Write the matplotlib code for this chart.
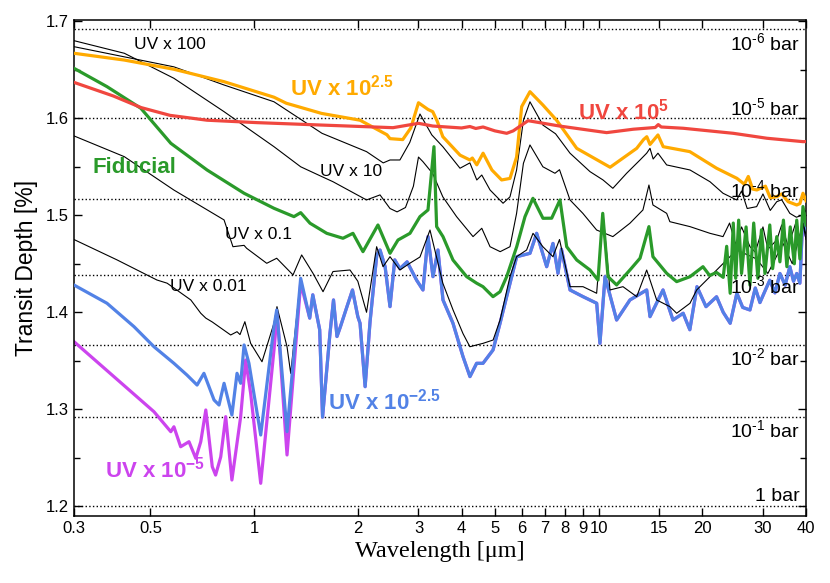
import numpy as np
import matplotlib
matplotlib.use("Agg")
import matplotlib.pyplot as plt
from matplotlib.ticker import FixedLocator, FixedFormatter, MultipleLocator, NullLocator

plt.rcParams['font.family'] = ['Liberation Sans', 'DejaVu Sans']
plt.rcParams['mathtext.fontset'] = 'custom'
plt.rcParams['mathtext.rm'] = 'Liberation Sans'
plt.rcParams['mathtext.bf'] = 'Liberation Sans:bold'
plt.rcParams['mathtext.it'] = 'Liberation Sans:italic'
plt.rcParams['axes.unicode_minus'] = False
plt.rcParams['lines.solid_joinstyle'] = 'round'

# ---- data: wavelength [um], transit depth [%] ----
red_w = [0.30, 0.39, 0.47, 0.57, 0.73, 1.02, 1.57, 2.12, 2.53, 2.70, 3.0, 3.3, 4.0, 4.23,
         4.4, 4.62, 5.0, 5.41, 5.65, 6.24, 7.7, 10.55, 12.6, 14.6, 14.9, 15.2, 17.6, 24.6,
         30.8, 39.2, 40.0]
red_d = [1.637, 1.623, 1.611, 1.603, 1.598, 1.5955, 1.593, 1.5913, 1.5903, 1.592, 1.5948,
         1.592, 1.590, 1.5915, 1.5895, 1.591, 1.587, 1.5845, 1.587, 1.5975, 1.592, 1.5852,
         1.5887, 1.5905, 1.5935, 1.591, 1.5897, 1.5845, 1.5794, 1.5759, 1.576]

orange_w = [0.30, 0.42, 0.585, 0.818, 1.142, 1.24, 1.57, 2.03, 2.43, 2.48, 2.70, 2.85, 3.0,
            3.2, 3.3, 3.4, 3.53, 3.96, 4.23, 4.3, 4.43, 4.62, 4.90, 5.23, 5.53, 5.78, 5.98,
            6.32, 6.89, 7.55, 8.64, 10.8, 12.9, 13.5, 13.8, 14.1, 14.87, 15.4, 18.4, 22.0,
            25.2, 26.5, 27.2, 28.0, 28.8, 30.5, 31.5, 32.9, 34.0, 35.5, 37.6, 38.4, 39.2, 40.0]
orange_d = [1.667, 1.660, 1.6505, 1.6377, 1.6217, 1.6155, 1.605, 1.598, 1.583, 1.579, 1.578,
            1.590, 1.616, 1.609, 1.6068, 1.597, 1.581, 1.562, 1.557, 1.559, 1.552, 1.564,
            1.5467, 1.5364, 1.538, 1.560, 1.612, 1.6274, 1.6137, 1.598, 1.569, 1.5495, 1.569,
            1.578, 1.581, 1.573, 1.5828, 1.5707, 1.5656, 1.5485, 1.5381, 1.532, 1.540, 1.527,
            1.5261, 1.530, 1.518, 1.5192, 1.522, 1.514, 1.5106, 1.512, 1.5227, 1.515]

uv100_w = [0.30, 0.585, 0.818, 1.142, 1.574, 2.12, 2.37, 2.48, 2.65, 2.83, 3.03, 3.28, 3.53,
           3.96, 4.23, 4.43, 4.58, 4.84, 5.28, 5.53, 5.78, 6.05, 6.32, 6.89, 7.5, 8.26, 9.44,
           10.3, 11.0, 12.06, 13.19, 13.79, 14.1, 14.4, 14.87, 15.76, 18.42, 21.05, 22.97,
           25.16, 26.0, 27.0, 28.76, 30.0, 31.5, 32.9, 34.0, 35.9, 37.5, 39.2, 40.0]
uv100_d = [1.6738, 1.653, 1.6343, 1.617, 1.5845, 1.5656, 1.554, 1.557, 1.557, 1.575, 1.6044,
           1.5828, 1.5707, 1.5485, 1.554, 1.5364, 1.5415, 1.5261, 1.5124, 1.519, 1.5467,
           1.598, 1.617, 1.593, 1.584, 1.564, 1.545, 1.5364, 1.5278, 1.5433, 1.557, 1.564,
           1.569, 1.558, 1.564, 1.5519, 1.5467, 1.5346, 1.5227, 1.5158, 1.525, 1.507, 1.5089,
           1.522, 1.505, 1.514, 1.516, 1.502, 1.498, 1.5003, 1.505]

uv10_w = [0.30, 0.42, 0.585, 0.818, 1.142, 1.365, 1.574, 1.694, 2.12, 2.32, 2.48, 2.60, 2.75,
          2.90, 3.0, 3.09, 3.3, 3.53, 3.87, 4.32, 4.58, 4.84, 5.18, 5.53, 5.78, 6.05, 6.32,
          6.89, 7.47, 7.7, 8.26, 9.0, 9.87, 11.0, 12.33, 13.45, 14.0, 14.38, 15.76, 16.1,
          18.42, 21.05, 22.97, 24.0, 25.0, 26.0, 27.51, 28.5, 30.0, 31.0, 32.9, 34.0, 35.5,
          37.6, 38.4, 39.2, 40.0]
uv10_d = [1.680, 1.667, 1.6412, 1.6068, 1.5707, 1.550, 1.5398, 1.5346, 1.5158, 1.521, 1.507,
          1.5035, 1.508, 1.530, 1.560, 1.5553, 1.543, 1.519, 1.4986, 1.478, 1.4866, 1.4676,
          1.4625, 1.4676, 1.502, 1.5536, 1.5725, 1.550, 1.5433, 1.547, 1.5158, 1.502, 1.4848,
          1.478, 1.4918, 1.5055, 1.5312, 1.5106, 1.502, 1.4934, 1.4883, 1.4814, 1.478, 1.492,
          1.470, 1.488, 1.4676, 1.462, 1.488, 1.465, 1.4745, 1.490, 1.468, 1.4952, 1.470,
          1.4918, 1.480]

uv01_w = [0.30, 0.42, 0.585, 0.818, 0.868, 0.935, 0.951, 1.088, 1.163, 1.297, 1.374, 1.482,
          1.585, 1.694, 1.898, 2.0, 2.12, 2.268, 2.367, 2.48, 2.65, 2.83, 3.03, 3.24, 3.53,
          3.78, 4.04, 4.23, 4.62, 4.94, 5.175, 5.53, 5.78, 6.18, 6.45, 6.89, 7.37, 7.7, 8.26,
          9.01, 9.87, 10.3, 10.79, 11.77, 12.9, 13.79, 14.74, 16.11, 16.85, 18.42, 19.26,
          22.02, 25.16, 28.76, 31.0, 34.3, 36.5, 39.2, 40.0]
uv01_d = [1.5818, 1.5604, 1.526, 1.4952, 1.4676, 1.469, 1.466, 1.4505, 1.4557, 1.4385,
          1.4591, 1.4402, 1.4212, 1.442, 1.4436, 1.432, 1.400, 1.4676, 1.447, 1.4573,
          1.4436, 1.4505, 1.457, 1.4848, 1.430, 1.4024, 1.378, 1.3645, 1.368, 1.3714, 1.392,
          1.4367, 1.4573, 1.4642, 1.4814, 1.4676, 1.4573, 1.475, 1.4264, 1.4264, 1.4196,
          1.502, 1.423, 1.4264, 1.4161, 1.4436, 1.4127, 1.4058, 1.399, 1.4093, 1.423, 1.4436,
          1.4642, 1.455, 1.440, 1.471, 1.450, 1.492, 1.475]

blue_w = [0.30, 0.374, 0.448, 0.512, 0.585, 0.638, 0.683, 0.715, 0.765, 0.791, 0.818, 0.862,
          0.892, 0.914, 0.935, 0.966, 1.045, 1.142, 1.163, 1.246, 1.365, 1.45, 1.48, 1.55,
          1.58, 1.66, 1.70, 1.74, 1.78, 1.86, 1.93, 2.0, 2.03, 2.10, 2.17, 2.27, 2.32, 2.40,
          2.48, 2.56, 2.65, 2.78, 2.964, 3.091, 3.197, 3.305, 3.417, 3.534, 3.778, 4.04,
          4.232, 4.425, 4.617, 4.937, 5.175, 5.409, 5.784, 6.321, 6.609, 7.068, 7.371, 7.623,
          7.8, 8.262, 9.012, 9.873, 10.09, 10.44, 11.28, 12.33, 13.79, 14.1, 15.38, 16.44,
          17.6, 18.4, 19.3, 20.5, 22.0, 23.0, 24.1, 25.2, 26.2, 27.5, 28.5, 29.4, 30.5, 31.4,
          32.5, 33.6, 34.8, 35.9, 36.8, 37.6, 38.4, 39.2, 40.0]
blue_d = [1.4281, 1.4093, 1.3852, 1.3645, 1.3474, 1.3354, 1.325, 1.3371, 1.3096, 1.3044,
          1.3268, 1.2941, 1.3371, 1.3268, 1.3663, 1.3474, 1.2735, 1.3852, 1.4024, 1.277,
          1.435, 1.394, 1.418, 1.382, 1.292, 1.378, 1.4127, 1.375, 1.385, 1.4058, 1.423,
          1.3955, 1.3887, 1.3233, 1.390, 1.459, 1.4642, 1.447, 1.4058, 1.454, 1.445, 1.452,
          1.433, 1.423, 1.478, 1.4367, 1.4642, 1.4127, 1.3887, 1.3543, 1.3337, 1.3474,
          1.3474, 1.3611, 1.3887, 1.4161, 1.4573, 1.4608, 1.4814, 1.447, 1.471, 1.4402,
          1.465, 1.423, 1.4161, 1.4093, 1.368, 1.4367, 1.392, 1.4127, 1.423, 1.3955, 1.423,
          1.392, 1.399, 1.382, 1.4264, 1.4058, 1.416, 1.400, 1.3887, 1.4196, 1.405, 1.4024,
          1.425, 1.410, 1.423, 1.433, 1.420, 1.440, 1.428, 1.447, 1.432, 1.440, 1.430,
          1.502, 1.48]

uv001_w = [0.30, 0.40, 0.522, 0.559, 0.655, 0.700, 0.724, 0.756, 0.855, 0.892, 0.91, 0.94,
           0.977, 1.054, 1.142, 1.165, 1.246, 1.277, 1.365]
uv001_d = [1.475, 1.454, 1.4333, 1.430, 1.4127, 1.399, 1.394, 1.390, 1.3766, 1.380, 1.377,
           1.3903, 1.368, 1.349, 1.3887, 1.4058, 1.3645, 1.337, 1.435]

magenta_w = [0.30, 0.512, 0.573, 0.585, 0.612, 0.647, 0.677, 0.700, 0.724, 0.756, 0.773,
             0.800, 0.827, 0.862, 0.914, 0.945, 0.977, 1.045, 1.142, 1.167, 1.246, 1.365]
magenta_d = [1.3697, 1.2975, 1.2769, 1.282, 1.2614, 1.2666, 1.2495, 1.2666, 1.2993, 1.2408,
             1.2322, 1.251, 1.2924, 1.2271, 1.2924, 1.3508, 1.3165, 1.2237, 1.3612, 1.399,
             1.2529, 1.4299]

green_w = [0.30, 0.374, 0.469, 0.573, 0.73, 0.935, 1.142, 1.305, 1.365, 1.453, 1.625, 1.811,
           1.936, 2.07, 2.288, 2.48, 2.616, 2.834, 3.03, 3.197, 3.327, 3.387, 3.534, 3.778,
           4.141, 4.425, 4.617, 4.937, 5.175, 5.409, 5.784, 6.114, 6.447, 6.894, 7.308, 7.725,
           8.079, 8.64, 9.441, 9.96, 10.28, 10.65, 11.28, 12.33, 13.19, 14.0, 14.38, 15.76,
           16.85, 18.42, 20.09, 21.0, 22.0, 23.0, 23.54, 24.1, 24.6, 25.0, 25.5, 26.0, 26.8,
           27.5, 28.2, 29.0, 29.7, 30.4, 31.4, 32.0, 32.9, 33.6, 34.4, 35.2, 36.0, 37.0, 37.6,
           38.4, 39.2, 40.0]
green_d = [1.6515, 1.6326, 1.6103, 1.5742, 1.5467, 1.5227, 1.5072, 1.4986, 1.5027, 1.4918,
           1.4814, 1.4763, 1.4814, 1.4625, 1.490, 1.4608, 1.4745, 1.4814, 1.4986, 1.5055,
           1.5707, 1.4883, 1.478, 1.4539, 1.4367, 1.430, 1.4264, 1.4161, 1.4212, 1.4367,
           1.4676, 1.4986, 1.5175, 1.4969, 1.497, 1.5158, 1.4676, 1.4539, 1.4436, 1.4333,
           1.502, 1.4367, 1.4282, 1.4436, 1.4557, 1.4883, 1.4573, 1.4402, 1.4316, 1.4367,
           1.447, 1.438, 1.441, 1.436, 1.468, 1.4196, 1.492, 1.435, 1.495, 1.440, 1.488,
           1.428, 1.492, 1.435, 1.485, 1.440, 1.490, 1.445, 1.478, 1.452, 1.495, 1.447,
           1.488, 1.450, 1.495, 1.455, 1.509, 1.49]

pressure_depth = [1.692, 1.6006, 1.5165, 1.4385, 1.366, 1.2924, 1.2]
pressure_label = ['10$^{\\text{-6}}$ bar', '10$^{\\text{-5}}$ bar',
                  '10$^{\\text{-4}}$ bar', '10$^{\\text{-3}}$ bar',
                  '10$^{\\text{-2}}$ bar', '10$^{\\text{-1}}$ bar', '1 bar']
pressure_label_y = [1.6776, 1.6106, 1.5261, 1.4271, 1.3529, 1.2787, 1.2096]

xticks = [0.3, 0.5, 1, 2, 3, 4, 5, 6, 7, 8, 9, 10, 15, 20, 30, 40]
xticklabels = ['0.3', '0.5', '1', '2', '3', '4', '5', '6', '7', '8', '9', '10', '15', '20', '30', '40']

blue_w = np.array(blue_w)
blue_d = np.array(blue_d)
tail = blue_w > 1.4
# the magenta and UV x 0.01 spectra run underneath the blue one at long wavelengths
magenta_w = np.concatenate([magenta_w, blue_w[tail]])
magenta_d = np.concatenate([magenta_d, blue_d[tail]])
uv001_w = np.concatenate([uv001_w, blue_w[tail]])
uv001_d = np.concatenate([uv001_d, blue_d[tail]])

c_orange = '#FFAA00'
c_red = '#F0473F'
c_green = '#2A9A2A'
c_blue = '#5282E6'
c_magenta = '#CC44EE'

fig = plt.figure(figsize=(8.3, 5.83), dpi=100)
ax = fig.add_axes([74 / 830, 1 - 516 / 583, 732 / 830, 496 / 583])

for p in pressure_depth:
    ax.axhline(p, color='black', ls=':', lw=1.0, zorder=1)

ax.plot(magenta_w, magenta_d, color=c_magenta, lw=2.3, zorder=2)
ax.plot(uv001_w, uv001_d, color='black', lw=0.8, zorder=2.5)
ax.plot(blue_w, blue_d, color=c_blue, lw=2.3, zorder=3)
ax.plot(uv01_w, uv01_d, color='black', lw=0.8, zorder=4)
ax.plot(uv10_w, uv10_d, color='black', lw=0.8, zorder=4)
ax.plot(uv100_w, uv100_d, color='black', lw=0.8, zorder=4)
ax.plot(green_w, green_d, color=c_green, lw=2.3, zorder=5)
ax.plot(orange_w, orange_d, color=c_orange, lw=2.3, zorder=6)
ax.plot(red_w, red_d, color=c_red, lw=2.3, zorder=7)

ax.set_xscale('log')
ax.set_xlim(0.3, 40)
ax.set_ylim(1.19, 1.7013)
ax.xaxis.set_major_locator(FixedLocator(xticks))
ax.xaxis.set_major_formatter(FixedFormatter(xticklabels))
ax.xaxis.set_minor_locator(NullLocator())
ax.yaxis.set_major_locator(MultipleLocator(0.1))
ax.yaxis.set_minor_locator(MultipleLocator(0.05))
ax.yaxis.set_major_formatter(plt.FuncFormatter(lambda v, _: '%.1f' % v))
ax.tick_params(which='both', direction='in', top=True, right=True, width=1.0, labelsize=12)
ax.tick_params(which='major', length=6)
ax.tick_params(which='minor', length=4)
for s in ax.spines.values():
    s.set_linewidth(1.1)

ax.set_ylabel('Transit Depth [%]', fontsize=16.5, labelpad=6)
ax.set_xlabel('Wavelength [\u03bcm]', fontsize=17.5, family=['Liberation Serif', 'DejaVu Serif'], labelpad=4)

for lab, y in zip(pressure_label, pressure_label_y):
    ax.text(38.3, y, lab, ha='right', va='center', fontsize=14, zorder=8)

ax.text(0.57, 1.6756, 'UV x 100', ha='center', va='center', fontsize=12.5)
ax.text(1.55, 1.5447, 'UV x 10', ha='left', va='center', fontsize=12.5)
ax.text(0.822, 1.4798, 'UV x 0.1', ha='left', va='center', fontsize=12.5)
ax.text(0.57, 1.4262, 'UV x 0.01', ha='left', va='center', fontsize=12.5)
ax.text(1.27, 1.6312, 'UV x 10$^{\\mathbf{2.5}}$', ha='left', va='center', fontsize=16,
        fontweight='bold', color=c_orange, zorder=9)
ax.text(0.3405, 1.5488, 'Fiducial', ha='left', va='center', fontsize=16,
        fontweight='bold', color=c_green, zorder=9)
ax.text(8.74, 1.6065, 'UV x 10$^{\\mathbf{5}}$', ha='left', va='center', fontsize=16,
        fontweight='bold', color=c_red, zorder=9)
ax.text(1.64, 1.3076, 'UV x 10$^{\\mathbf{-2.5}}$', ha='left', va='center', fontsize=16,
        fontweight='bold', color=c_blue, zorder=9)
ax.text(0.369, 1.2375, 'UV x 10$^{\\mathbf{-5}}$', ha='left', va='center', fontsize=16,
        fontweight='bold', color=c_magenta, zorder=9)

fig.savefig('out.png', dpi=100)
